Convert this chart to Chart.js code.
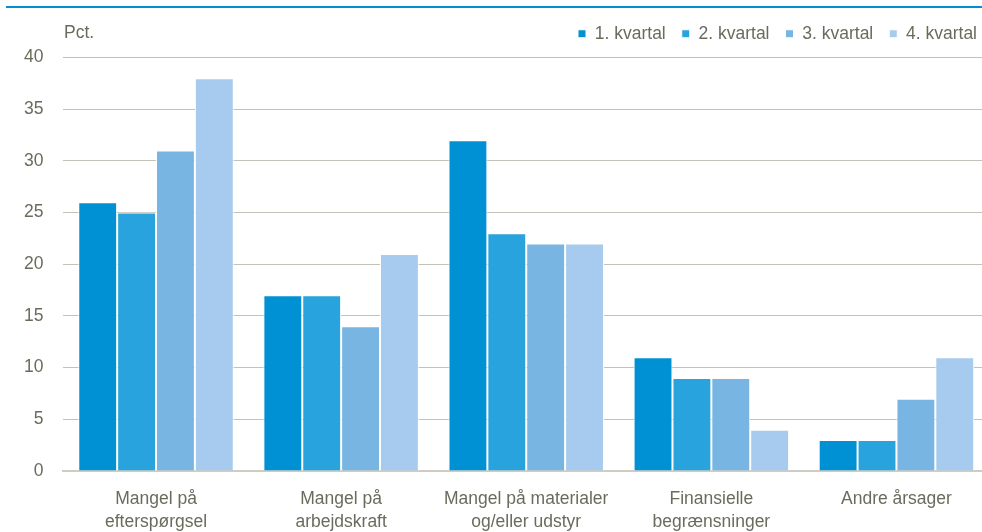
<!DOCTYPE html>
<html>
<head>
<meta charset="utf-8">
<script src="https://cdn.jsdelivr.net/npm/chart.js@4.4.0/dist/chart.umd.min.js"></script>
<style>
  html, body { margin: 0; padding: 0; background: #fff; overflow: hidden; }
  #wrap { position: relative; width: 982px; height: 532px; overflow: hidden; }
  #topline { position: absolute; left: 6px; right: 0; top: 6px; height: 2px; background: #0090d0; z-index: 1; }
</style>
</head>
<body>
<div id="wrap">
  <div id="topline"></div>
  <canvas id="chart" width="989" height="532"></canvas>
</div>
<script>
// kategorier (flere linjer pr. label)
const categories = [
    ['Mangel på', 'efterspørgsel'],
    ['Mangel på', 'arbejdskraft'],
    ['Mangel på materialer', 'og/eller udstyr'],
    ['Finansielle', 'begrænsninger'],
    ['Andre årsager']
];
const seriesNames = ['1. kvartal', '2. kvartal', '3. kvartal', '4. kvartal'];
const q1 = [26, 17, 32, 11, 3];
const q2 = [25, 17, 23, 9, 3];
const q3 = [31, 14, 22, 9, 7];
const q4 = [38, 21, 22, 4, 11];
const seriesColors = ['#0090d4', '#29a3dd', '#79b5e2', '#a6cbee'];

const textColor = '#6b6b5d';
const gridColor = '#c4c1b6';
const fontFamily = '"Liberation Sans", Arial, sans-serif';
const fontSize = 17.5;

// "Pct." over y-aksen
const pctLabel = {
    id: 'pctLabel',
    afterDraw(chart) {
        const ctx = chart.ctx;
        ctx.save();
        ctx.font = fontSize + 'px ' + fontFamily;
        ctx.fillStyle = textColor;
        ctx.textAlign = 'left';
        ctx.textBaseline = 'middle';
        ctx.fillText('Pct.', 64, 33);
        ctx.restore();
    }
};

// mere luft under legenden, og flyt den så den ender ved billedkanten
const legendSpace = {
    id: 'legendSpace',
    beforeInit(chart) {
        const origFit = chart.legend.fit;
        chart.legend.fit = function () {
            origFit.bind(chart.legend)();
            this.height += 5;
        };
    },
    afterLayout(chart) {
        chart.legend.left += 4;
        chart.legend.right += 4;
    }
};

const allSeries = [q1, q2, q3, q4];

new Chart(document.getElementById('chart'), {
    type: 'bar',
    data: {
        labels: categories,
        datasets: allSeries.map((d, i) => ({
            label: seriesNames[i],
            data: d,
            backgroundColor: seriesColors[i],
            borderColor: '#ffffff',
            borderWidth: 1,
            borderSkipped: 'bottom',
            barPercentage: 1,
            categoryPercentage: 0.84
        }))
    },
    options: {
        responsive: false,
        animation: false,
        layout: { padding: { top: 9, right: 0, left: 4, bottom: 0 } },
        plugins: {
            legend: {
                position: 'top',
                align: 'end',
                labels: {
                    color: textColor,
                    font: { size: fontSize, family: fontFamily },
                    boxWidth: 8,
                    boxHeight: 8,
                    padding: 16
                }
            },
            tooltip: { enabled: false }
        },
        scales: {
            y: {
                min: 0,
                max: 40,
                ticks: {
                    stepSize: 5,
                    color: textColor,
                    padding: 20,
                    font: { size: fontSize, family: fontFamily }
                },
                grid: { color: gridColor, lineWidth: 1, drawTicks: false },
                border: { display: false }
            },
            x: {
                afterFit(scale) { scale.height = 61; },
                ticks: {
                    color: textColor,
                    padding: 8,
                    maxRotation: 0,
                    font: { size: fontSize, family: fontFamily, lineHeight: 1.35 }
                },
                grid: { display: false },
                border: { color: '#cfccc2', width: 2 }
            }
        }
    },
    plugins: [pctLabel, legendSpace]
});
</script>
</body>
</html>
